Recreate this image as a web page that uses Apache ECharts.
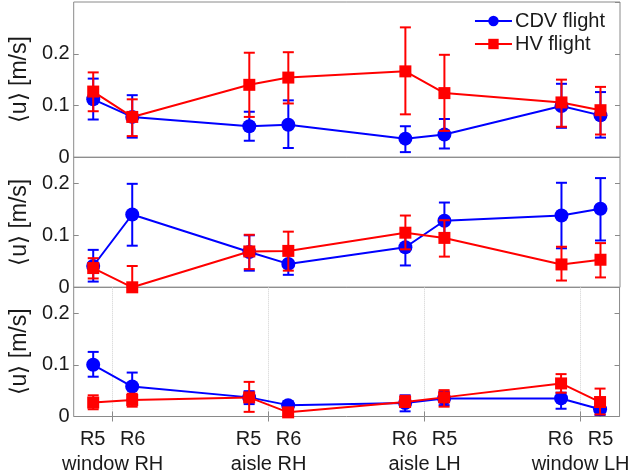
<!DOCTYPE html>
<html>
<head>
<meta charset="utf-8">
<script src="https://cdn.jsdelivr.net/npm/echarts@6/dist/echarts.min.js"></script>
<style>
  html, body { margin: 0; padding: 0; background: #fff; }
  #chart { width: 632px; height: 474px; }
</style>
</head>
<body>
<div id="chart"></div>
<script>
// seat positions along the x axis
const xPos = [1, 2, 5, 6, 9, 10, 13, 14]
const groupTicks = [1.5, 5.5, 9.5, 13.5]
const groupTop = [['R5', 'R6'], ['R5', 'R6'], ['R6', 'R5'], ['R6', 'R5']]
const groupBottom = ['window RH', 'aisle RH', 'aisle LH', 'window LH']

// panel 1
const cdvMean1 = [0.112, 0.078, 0.060, 0.063, 0.036, 0.044, 0.099, 0.081]
const cdvLo1 = [0.073, 0.038, 0.032, 0.018, 0.010, 0.017, 0.057, 0.038]
const cdvHi1 = [0.152, 0.120, 0.088, 0.110, 0.060, 0.074, 0.142, 0.126]
const hvMean1 = [0.127, 0.078, 0.140, 0.154, 0.166, 0.124, 0.106, 0.091]
const hvLo1 = [0.089, 0.041, 0.078, 0.104, 0.083, 0.051, 0.059, 0.044]
const hvHi1 = [0.164, 0.112, 0.202, 0.203, 0.251, 0.198, 0.150, 0.136]

// panel 2
const cdvMean2 = [0.041, 0.140, 0.068, 0.045, 0.077, 0.128, 0.138, 0.151]
const cdvLo2 = [0.011, 0.080, 0.032, 0.024, 0.042, 0.093, 0.075, 0.090]
const cdvHi2 = [0.072, 0.199, 0.100, 0.066, 0.112, 0.163, 0.201, 0.210]
const hvMean2 = [0.037, 0.000, 0.069, 0.070, 0.105, 0.095, 0.044, 0.053]
const hvLo2 = [0.017, 0.000, 0.035, 0.032, 0.073, 0.059, 0.013, 0.019]
const hvHi2 = [0.056, 0.041, 0.101, 0.107, 0.138, 0.129, 0.078, 0.085]

// panel 3
const cdvMean3 = [0.100, 0.058, 0.037, 0.022, 0.026, 0.035, 0.035, 0.014]
const cdvLo3 = [0.077, 0.033, 0.024, 0.014, 0.010, 0.022, 0.015, 0.003]
const cdvHi3 = [0.125, 0.085, 0.049, 0.029, 0.041, 0.048, 0.046, 0.026]
const hvMean3 = [0.027, 0.032, 0.037, 0.008, 0.028, 0.037, 0.064, 0.028]
const hvLo3 = [0.014, 0.019, 0.009, 0.002, 0.019, 0.019, 0.046, 0.004]
const hvHi3 = [0.041, 0.044, 0.067, 0.014, 0.040, 0.051, 0.082, 0.054]

const panels = [
  { cdv: [cdvMean1, cdvLo1, cdvHi1], hv: [hvMean1, hvLo1, hvHi1], max: 0.3 },
  { cdv: [cdvMean2, cdvLo2, cdvHi2], hv: [hvMean2, hvLo2, hvHi2], max: 0.25 },
  { cdv: [cdvMean3, cdvLo3, cdvHi3], hv: [hvMean3, hvLo3, hvHi3], max: 0.25 }
]

const BLUE = '#0000ff'
const RED = '#ff0000'
const FONT = 'Liberation Sans, Arial, sans-serif'
const BOX = '#8a8a8a'

const errorBars = (color) => (params, api) => {
  const x = api.value(0)
  const top = api.coord([x, api.value(2)])
  const bot = api.coord([x, api.value(1)])
  const hw = 5.5
  const style = { stroke: color, lineWidth: 2 }
  return {
    type: 'group',
    children: [
      { type: 'line', shape: { x1: top[0], y1: top[1], x2: bot[0], y2: bot[1] }, style },
      { type: 'line', shape: { x1: top[0] - hw, y1: top[1], x2: top[0] + hw, y2: top[1] }, style },
      { type: 'line', shape: { x1: bot[0] - hw, y1: bot[1], x2: bot[0] + hw, y2: bot[1] }, style }
    ]
  }
}

const grids = [
  { left: 67, right: 12, top: 2, height: 155.3 },
  { left: 67, right: 12, top: 157.3, height: 130 },
  { left: 67, right: 12, top: 287.3, height: 130 }
].map((g) => ({ ...g, show: true, borderColor: BOX, borderWidth: 1 }))

const xAxes = []
const yAxes = []
const series = []

panels.forEach((p, i) => {
  const last = i === panels.length - 1
  xAxes.push({
    type: 'value',
    gridIndex: i,
    min: 0.5,
    max: 14.5,
    axisLine: { show: false },
    axisTick: last
      ? { show: true, inside: true, length: 5, customValues: groupTicks, lineStyle: { color: BOX } }
      : { show: false },
    axisLabel: last
      ? {
          show: true,
          customValues: groupTicks,
          margin: 10,
          color: '#1a1a1a',
          fontFamily: FONT,
          formatter: (v) => {
            const k = groupTicks.indexOf(v)
            if (k < 0) return ''
            return '{a|' + groupTop[k][0] + '}{a|' + groupTop[k][1] + '}\n{b|' + groupBottom[k] + '}'
          },
          rich: {
            a: { width: 40, align: 'center', fontSize: 20, lineHeight: 25, fontFamily: FONT, color: '#1a1a1a' },
            b: { fontSize: 20, lineHeight: 25, fontFamily: FONT, color: '#1a1a1a' }
          }
        }
      : { show: false },
    splitLine: last
      ? { show: true, lineStyle: { color: '#d0d0d0', type: 'dotted', width: 1 } }
      : { show: false }
  })
  if (last) {
    xAxes.push({
      type: 'value',
      gridIndex: i,
      position: 'top',
      min: 0.5,
      max: 14.5,
      axisLine: { show: false },
      axisTick: { show: true, inside: true, length: 5, customValues: groupTicks, lineStyle: { color: BOX } },
      axisLabel: { show: false },
      splitLine: { show: false }
    })
  }
  const yBase = {
    type: 'value',
    gridIndex: i,
    min: 0,
    max: p.max,
    interval: 0.1,
    axisLine: { show: false },
    axisTick: { show: true, inside: true, length: 5, lineStyle: { color: BOX } },
    splitLine: { show: false }
  }
  yAxes.push({
    ...yBase,
    position: 'left',
    name: '\u27e8u\u27e9 [m/s]',
    nameLocation: 'middle',
    nameGap: 33,
    nameTextStyle: { fontSize: 23, fontFamily: FONT, color: '#1a1a1a' },
    axisLabel: { fontSize: 20, fontFamily: FONT, color: '#1a1a1a', margin: 4, showMaxLabel: false }
  })
  yAxes.push({ ...yBase, position: 'right', axisLabel: { show: false } })

  const xIdx = last ? xAxes.length - 2 : xAxes.length - 1
  const yIdx = yAxes.length - 2
  const addSet = (name, color, symbol, size, set, z) => {
    const [mean, lo, hi] = set
    series.push({
      type: 'custom',
      xAxisIndex: xIdx,
      yAxisIndex: yIdx,
      renderItem: errorBars(color),
      data: xPos.map((x, j) => [x, lo[j], hi[j]]),
      z: z,
      silent: true
    })
    series.push({
      name: name,
      type: 'line',
      xAxisIndex: xIdx,
      yAxisIndex: yIdx,
      data: xPos.map((x, j) => [x, mean[j]]),
      symbol: symbol,
      symbolSize: size,
      showAllSymbol: true,
      lineStyle: { color: color, width: 2 },
      itemStyle: { color: color },
      z: z + 1
    })
  }
  addSet('CDV flight', BLUE, 'circle', 14, p.cdv, 2)
  addSet('HV flight', RED, 'rect', 12, p.hv, 4)
})

const chart = echarts.init(document.getElementById('chart'), null, { renderer: 'canvas' })
chart.setOption({
  animation: false,
  backgroundColor: '#fff',
  grid: grids,
  xAxis: xAxes,
  yAxis: yAxes,
  legend: {
    data: ['CDV flight', 'HV flight'],
    orient: 'vertical',
    right: 22,
    top: 6,
    itemWidth: 37,
    itemHeight: 13,
    itemGap: 3,
    textStyle: { fontSize: 20, fontFamily: FONT, color: '#1a1a1a', padding: [0, 0, 0, -2] }
  },
  series: series
})
</script>
</body>
</html>
